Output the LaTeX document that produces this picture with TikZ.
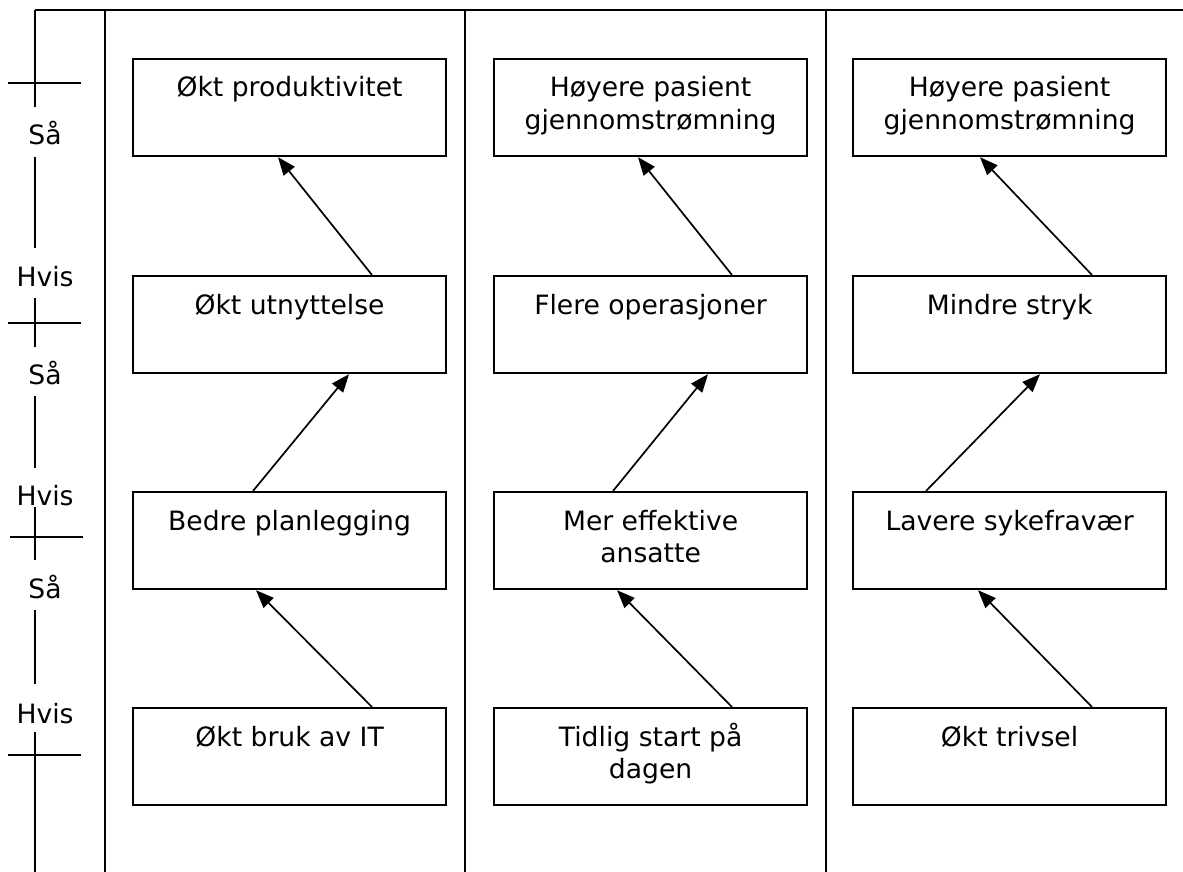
\documentclass[tikz,border=0pt]{standalone}
\usepackage{fontspec}
\setmainfont{DejaVu Sans}
\usetikzlibrary{arrows.meta}

% multi-line cell text, baseline on the first line
\newcommand\cell[1]{\begin{tabular}[t]{@{}c@{}}#1\end{tabular}}

\begin{document}
\begin{tikzpicture}[x=1pt,y=-1pt,
  frame/.style={line width=2pt},
  axisline/.style={line width=1.8pt},
  effectbox/.style={draw,line width=2.2pt,rectangle,minimum width=313pt,minimum height=97pt,inner sep=0pt,anchor=north west},
  celltext/.style={anchor=base,inner sep=0pt,font=\fontsize{26.6}{32.5}\selectfont},
  axislabel/.style={anchor=base,inner sep=0pt,font=\fontsize{26.6}{32.5}\selectfont},
  link/.style={line width=1.7pt,-{Triangle[length=18pt,width=14pt]}}]
\useasboundingbox (0,0) rectangle (1183,872);

% frame: top rule and column dividers
\draw[frame] (35,10) -- (1183,10);
\draw[frame] (105,10) -- (105,872);
\draw[frame] (465,10) -- (465,872);
\draw[frame] (826,10) -- (826,872);

% left axis with Hvis/Så marks
\draw[axisline] (35,10) -- (35,107);
\draw[axisline] (35,157) -- (35,248);
\draw[axisline] (35,298) -- (35,347);
\draw[axisline] (35,396) -- (35,468);
\draw[axisline] (35,507) -- (35,560);
\draw[axisline] (35,610) -- (35,684);
\draw[axisline] (35,732) -- (35,872);
\draw[axisline] (8,83) -- (81,83);
\draw[axisline] (8,323) -- (81,323);
\draw[axisline] (10,537) -- (83,537);
\draw[axisline] (8,755) -- (81,755);
\node[axislabel] (sa1) at (45,144) {Så};
\node[axislabel] (hv1) at (45,286) {Hvis};
\node[axislabel] (sa2) at (45,384) {Så};
\node[axislabel] (hv2) at (45,505) {Hvis};
\node[axislabel] (sa3) at (45,598) {Så};
\node[axislabel] (hv3) at (45,723) {Hvis};

% boxes: b<column><row>, row 1 at the top
\foreach \c/\x in {1/132,2/493,3/852}{
  \foreach \r/\y in {1/58,2/275,3/491,4/707}{
    \node[effectbox] (b\c\r) at (\x,\y) {};
  }
}

% column 1
\node[celltext] (t11) at ([yshift=-39pt]b11.north) {\cell{Økt produktivitet}};
\node[celltext] (t12) at ([yshift=-39pt]b12.north) {\cell{Økt utnyttelse}};
\node[celltext] (t13) at ([yshift=-39pt]b13.north) {\cell{Bedre planlegging}};
\node[celltext] (t14) at ([yshift=-39pt]b14.north) {\cell{Økt bruk av IT}};
% column 2
\node[celltext] (t21) at ([yshift=-39pt]b21.north) {\cell{Høyere pasient\\gjennomstrømning}};
\node[celltext] (t22) at ([yshift=-39pt]b22.north) {\cell{Flere operasjoner}};
\node[celltext] (t23) at ([yshift=-39pt]b23.north) {\cell{Mer effektive\\ansatte}};
\node[celltext] (t24) at ([yshift=-39pt]b24.north) {\cell{Tidlig start på\\dagen}};
% column 3
\node[celltext] (t31) at ([yshift=-39pt]b31.north) {\cell{Høyere pasient\\gjennomstrømning}};
\node[celltext] (t32) at ([yshift=-39pt]b32.north) {\cell{Mindre stryk}};
\node[celltext] (t33) at ([yshift=-39pt]b33.north) {\cell{Lavere sykefravær}};
\node[celltext] (t34) at ([yshift=-39pt]b34.north) {\cell{Økt trivsel}};

% causal links, bottom to top
\draw[link] ([xshift=240pt]b14.north west) -- ([xshift=124pt]b13.south west);
\draw[link] ([xshift=121pt]b13.north west) -- ([xshift=217pt]b12.south west);
\draw[link] ([xshift=240pt]b12.north west) -- ([xshift=146pt]b11.south west);

\draw[link] ([xshift=239pt]b24.north west) -- ([xshift=124pt]b23.south west);
\draw[link] ([xshift=120pt]b23.north west) -- ([xshift=215pt]b22.south west);
\draw[link] ([xshift=239pt]b22.north west) -- ([xshift=145pt]b21.south west);

\draw[link] ([xshift=240pt]b34.north west) -- ([xshift=126pt]b33.south west);
\draw[link] ([xshift=74pt]b33.north west) -- ([xshift=188pt]b32.south west);
\draw[link] ([xshift=240pt]b32.north west) -- ([xshift=128pt]b31.south west);
\end{tikzpicture}
\end{document}
